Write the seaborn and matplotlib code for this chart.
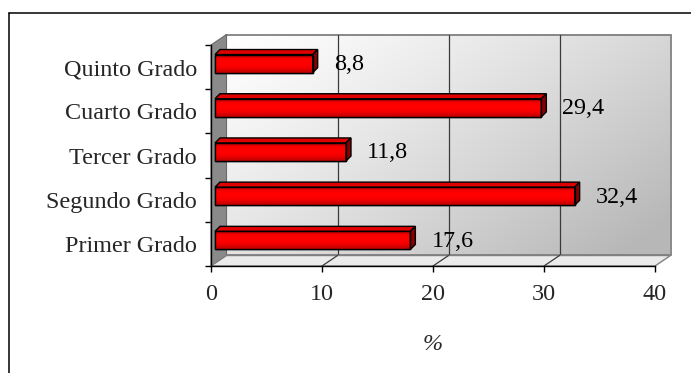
import numpy as np
import pandas as pd
import matplotlib
matplotlib.use("Agg")
import matplotlib.pyplot as plt
from matplotlib.patches import Polygon, Rectangle
from matplotlib.lines import Line2D
from matplotlib.transforms import ScaledTranslation, IdentityTransform
import seaborn as sns

# ---- data -------------------------------------------------------------
grades = ["Quinto Grado", "Cuarto Grado", "Tercer Grado", "Segundo Grado", "Primer Grado"]
percents = [8.8, 29.4, 11.8, 32.4, 17.6]
x_ticks = [0, 10, 20, 30, 40]
x_label = "%"

# ---- style ------------------------------------------------------------
sns.set_style("white")
plt.rcParams["font.family"] = ["Liberation Serif", "DejaVu Serif"]
FS = 17.4

W, H, DPI = 691, 373, 100
fig = plt.figure(figsize=(W / DPI, H / DPI), dpi=DPI)
fig.patch.set_facecolor("white")

# front plane of the 3-D box (pixels, measured from top-left)
L, R, T, B = 211, 655, 45, 266
ax = fig.add_axes([L / W, (H - B) / H, (R - L) / W, (B - T) / H])
ax.set_facecolor("none")

WALL = (15.5, 10.5)   # depth of the box walls, px
BAR_OFF = (4.0, 3.5)  # bar front face offset from the front plane, px
BAR_D = (5.0, 5.0)    # bar depth, px
BAR_W = 0.41


def shifted(dx, dy):
    return ax.transData + ScaledTranslation(dx / DPI, dy / DPI, fig.dpi_scale_trans)


df = pd.DataFrame({"grado": grades, "pct": percents})
sns.barplot(data=df, x="pct", y="grado", orient="h", color="#ff0000",
            saturation=1, width=BAR_W, edgecolor="black", linewidth=1.0,
            ax=ax, zorder=3)
bars = list(ax.patches)

y_lo, y_hi = len(grades) - 0.5, -0.5
ax.set_xlim(0, 40)
ax.set_ylim(y_lo, y_hi)

# ---- back wall with a diagonal grey gradient --------------------------
nx, ny = 240, 120
u = np.linspace(0, 1, nx)[None, :]
v = np.linspace(0, 1, ny)[:, None]
t = np.clip(0.62 * u + 0.45 * v, 0, 1)
g = 1.0 - 0.28 * t ** 1.2
wall_rgb = np.dstack([g, g, g])
ax.imshow(wall_rgb, extent=(0, 40, y_lo, y_hi), transform=shifted(*WALL),
          aspect="auto", zorder=0, clip_on=False, interpolation="bilinear")
ax.add_patch(Rectangle((0, y_hi), 40, y_lo - y_hi, transform=shifted(*WALL),
                       fill=False, edgecolor="#808080", lw=1.3, clip_on=False, zorder=1))
for xv in x_ticks[1:-1]:
    ax.plot([xv, xv], [y_lo, y_hi], transform=shifted(*WALL), color="#3a3a3a",
            lw=0.9, clip_on=False, zorder=1)

ax.set_xlim(0, 40)
ax.set_ylim(y_lo, y_hi)


def disp(x, y, tr=None, extra=(0, 0)):
    tr = ax.transData if tr is None else tr
    px, py = tr.transform((x, y))
    return (px + extra[0], py + extra[1])


# ---- left wall --------------------------------------------------------
left_wall = [disp(0, y_lo), disp(0, y_hi), disp(0, y_hi, extra=WALL), disp(0, y_lo, extra=WALL)]
ax.add_patch(Polygon(left_wall, closed=True, transform=IdentityTransform(),
                     facecolor="#8a8a8a", edgecolor="#6a6a6a", lw=0.8,
                     clip_on=False, zorder=1))

# ---- floor ------------------------------------------------------------
floor = [disp(0, y_lo), disp(40, y_lo), disp(40, y_lo, extra=WALL), disp(0, y_lo, extra=WALL)]
ax.add_patch(Polygon(floor, closed=True, transform=IdentityTransform(),
                     facecolor="#ebebeb", edgecolor="#808080", lw=1.0,
                     clip_on=False, zorder=1))
for xv in x_ticks[1:-1]:
    p0 = disp(xv, y_lo)
    p1 = disp(xv, y_lo, extra=WALL)
    ax.add_line(Line2D([p0[0], p1[0]], [p0[1], p1[1]], transform=IdentityTransform(),
                       color="#3a3a3a", lw=0.9, clip_on=False, zorder=1.5))

# ---- 3-D bars ---------------------------------------------------------
face = np.array([0.72, 0.85, 0.97, 1.0, 1.0, 1.0, 0.98, 0.93, 0.86, 0.76])
bar_rgb = np.zeros((len(face), 2, 3))
bar_rgb[:, :, 0] = face[:, None]
front_tr = shifted(*BAR_OFF)

for patch, val in zip(bars, percents):
    patch.set_transform(front_tr)
    patch.set_clip_on(False)
    y0 = patch.get_y()
    h = patch.get_height()
    # shaded front face
    im = ax.imshow(bar_rgb, extent=(0, val, y0 + h, y0), transform=front_tr,
                   aspect="auto", zorder=3.1, interpolation="bilinear", clip_on=False)
    im.set_clip_path(patch)
    ax.add_patch(Rectangle((0, y0), val, h, transform=front_tr, fill=False,
                           edgecolor="black", lw=1.0, clip_on=False, zorder=3.3))
    # top face
    top = [disp(0, y0, front_tr), disp(val, y0, front_tr),
           disp(val, y0, front_tr, BAR_D), disp(0, y0, front_tr, BAR_D)]
    ax.add_patch(Polygon(top, closed=True, transform=IdentityTransform(),
                         facecolor="#e00000", edgecolor="black", lw=1.0,
                         clip_on=False, zorder=3.2))
    # end face
    side = [disp(val, y0, front_tr), disp(val, y0 + h, front_tr),
            disp(val, y0 + h, front_tr, BAR_D), disp(val, y0, front_tr, BAR_D)]
    ax.add_patch(Polygon(side, closed=True, transform=IdentityTransform(),
                         facecolor="#8a0000", edgecolor="black", lw=1.0,
                         clip_on=False, zorder=3.2))

ax.set_xlim(0, 40)
ax.set_ylim(y_lo, y_hi)

# ---- value labels -----------------------------------------------------
for i, val in enumerate(percents):
    ax.annotate(f"{val:.1f}".replace(".", ","), xy=(val, i),
                xytext=(BAR_OFF[0] + BAR_D[0] + 16, BAR_OFF[1] - 1),
                textcoords="offset pixels", ha="left", va="center",
                fontsize=FS, color="black", zorder=5, annotation_clip=False)

# ---- axes -------------------------------------------------------------
for side_name in ("top", "right"):
    ax.spines[side_name].set_visible(False)
for side_name in ("left", "bottom"):
    ax.spines[side_name].set_visible(True)
    ax.spines[side_name].set_color("black")
    ax.spines[side_name].set_linewidth(1.0)
    ax.spines[side_name].set_zorder(4)

ax.set_xticks(x_ticks)
ax.set_xticklabels([str(x) for x in x_ticks])
ax.set_yticks(range(len(grades)))
ax.set_yticklabels(grades)
ax.set_yticks(np.arange(-0.5, len(grades), 1.0), minor=True)
ax.tick_params(axis="x", which="major", direction="out", length=4, width=1.0,
               color="black", labelsize=FS, pad=9, bottom=True)
ax.tick_params(axis="y", which="major", length=0, labelsize=FS, pad=10, left=True)
ax.tick_params(axis="y", which="minor", direction="out", length=4, width=1.0,
               color="black", left=True)
ax.set_ylabel("")
ax.set_xlabel(x_label, fontsize=FS, fontstyle="italic", labelpad=21)
ax.grid(False)

# ---- chart-area frame -------------------------------------------------
fig.add_artist(Line2D([9 / W, 1], [1 - 13 / H, 1 - 13 / H], transform=fig.transFigure,
                      color="black", lw=1.1))
fig.add_artist(Line2D([9 / W, 9 / W], [0, 1 - 13 / H], transform=fig.transFigure,
                      color="black", lw=1.1))

fig.savefig("out.png", dpi=DPI, facecolor="white")
